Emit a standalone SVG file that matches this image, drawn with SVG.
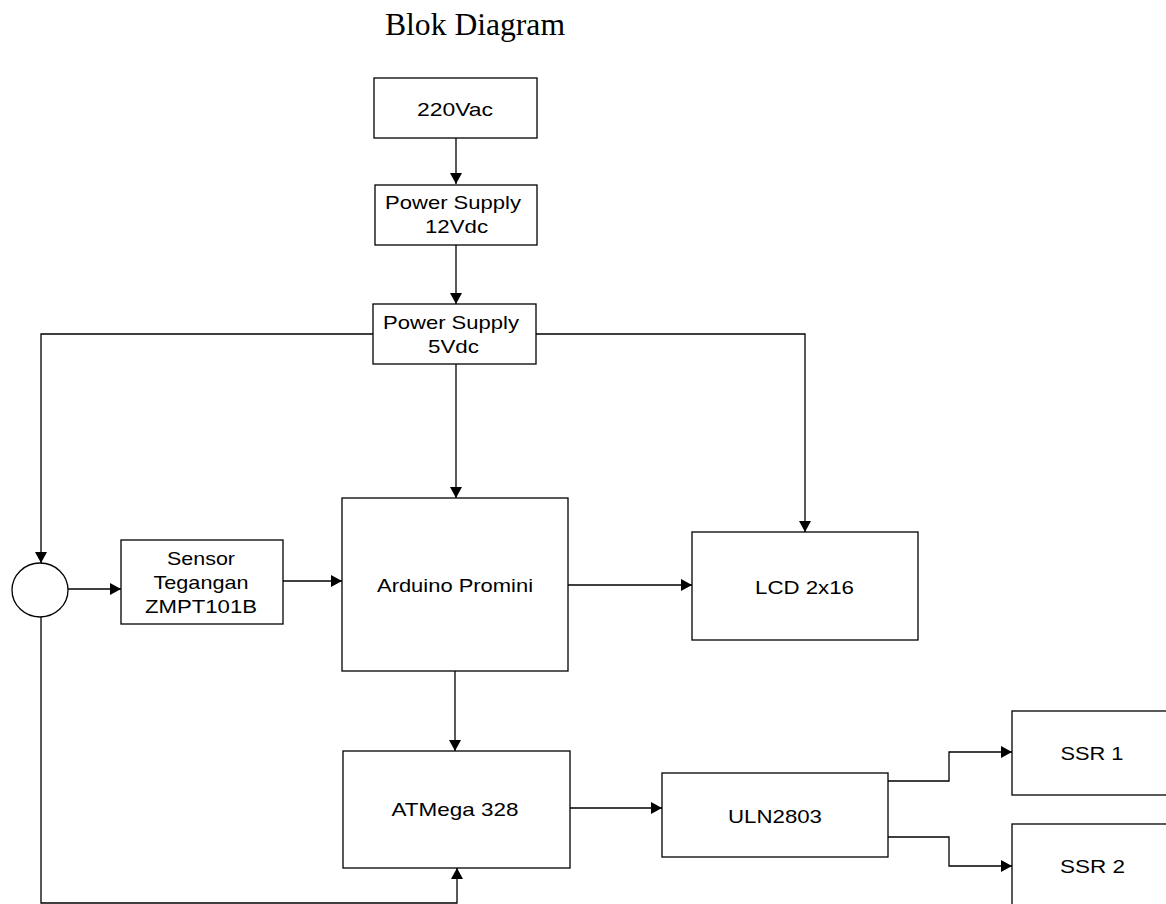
<svg xmlns="http://www.w3.org/2000/svg" width="1166" height="904" viewBox="0 0 1166 904">
<style>
.box{fill:#fff;stroke:#000;stroke-width:1.3}
.t{font-family:"Liberation Sans",Arial,sans-serif;font-size:19px;fill:#000;text-anchor:middle}
.title{font-family:"Liberation Serif","Times New Roman",serif;font-size:31px;fill:#000;text-anchor:middle}
.c{fill:none;stroke:#000;stroke-width:1.3}
</style>
<defs>
<marker id="ah" markerUnits="userSpaceOnUse" markerWidth="12" markerHeight="12" viewBox="0 0 11 12" refX="11" refY="6" orient="auto">
<path d="M0,0 L11,6 L0,12 Z" fill="#000"/>
</marker>
</defs>
<rect width="1166" height="904" fill="#fff"/>
<text class="title" x="475" y="35" textLength="180" lengthAdjust="spacingAndGlyphs">Blok Diagram</text>
<g id="connectors">
<path class="c" d="M456,138 V184" marker-end="url(#ah)"/>
<path class="c" d="M456,245 V304" marker-end="url(#ah)"/>
<path class="c" d="M456,364 V498" marker-end="url(#ah)"/>
<path class="c" d="M373,334 H41 V563" marker-end="url(#ah)"/>
<path class="c" d="M536,334 H805 V532" marker-end="url(#ah)"/>
<path class="c" d="M68,589 H121" marker-end="url(#ah)"/>
<path class="c" d="M283,581 H342" marker-end="url(#ah)"/>
<path class="c" d="M568,585 H692" marker-end="url(#ah)"/>
<path class="c" d="M455,671 V751" marker-end="url(#ah)"/>
<path class="c" d="M41,617 V903 H457 V868" marker-end="url(#ah)"/>
<path class="c" d="M570,808 H662" marker-end="url(#ah)"/>
<path class="c" d="M888,781 H949 V752 H1012" marker-end="url(#ah)"/>
<path class="c" d="M888,837 H949 V866 H1012" marker-end="url(#ah)"/>
</g>
<g id="n220">
<rect class="box" x="374" y="78" width="163" height="60"/>
<text class="t" x="455" y="116" textLength="76" lengthAdjust="spacingAndGlyphs">220Vac</text>
</g>
<g id="ps12">
<rect class="box" x="375" y="185" width="162" height="60"/>
<text class="t" x="453" y="209" textLength="136" lengthAdjust="spacingAndGlyphs">Power Supply</text>
<text class="t" x="456.5" y="233" textLength="63" lengthAdjust="spacingAndGlyphs">12Vdc</text>
</g>
<g id="ps5">
<rect class="box" x="373" y="304" width="163" height="60"/>
<text class="t" x="451" y="329" textLength="136" lengthAdjust="spacingAndGlyphs">Power Supply</text>
<text class="t" x="453.5" y="353" textLength="51" lengthAdjust="spacingAndGlyphs">5Vdc</text>
</g>
<g id="junction">
<ellipse class="box" cx="40" cy="590" rx="28" ry="27"/>
</g>
<g id="sensor">
<rect class="box" x="121" y="540" width="162" height="84"/>
<text class="t" x="201" y="565" textLength="68" lengthAdjust="spacingAndGlyphs">Sensor</text>
<text class="t" x="201" y="589" textLength="95" lengthAdjust="spacingAndGlyphs">Tegangan</text>
<text class="t" x="201" y="613" textLength="112" lengthAdjust="spacingAndGlyphs">ZMPT101B</text>
</g>
<g id="arduino">
<rect class="box" x="342" y="498" width="226" height="173"/>
<text class="t" x="455" y="592" textLength="156" lengthAdjust="spacingAndGlyphs">Arduino Promini</text>
</g>
<g id="lcd">
<rect class="box" x="692" y="532" width="226" height="108"/>
<text class="t" x="804.5" y="594" textLength="99" lengthAdjust="spacingAndGlyphs">LCD 2x16</text>
</g>
<g id="atmega">
<rect class="box" x="343" y="751" width="227" height="117"/>
<text class="t" x="455" y="816" textLength="127" lengthAdjust="spacingAndGlyphs">ATMega 328</text>
</g>
<g id="uln">
<rect class="box" x="662" y="773" width="226" height="84"/>
<text class="t" x="775" y="823" textLength="94" lengthAdjust="spacingAndGlyphs">ULN2803</text>
</g>
<g id="ssr1">
<rect class="box" x="1012" y="711" width="170" height="84"/>
<text class="t" x="1092" y="760" textLength="63" lengthAdjust="spacingAndGlyphs">SSR 1</text>
</g>
<g id="ssr2">
<rect class="box" x="1012" y="824" width="170" height="100"/>
<text class="t" x="1092.5" y="873" textLength="65" lengthAdjust="spacingAndGlyphs">SSR 2</text>
</g>
</svg>
